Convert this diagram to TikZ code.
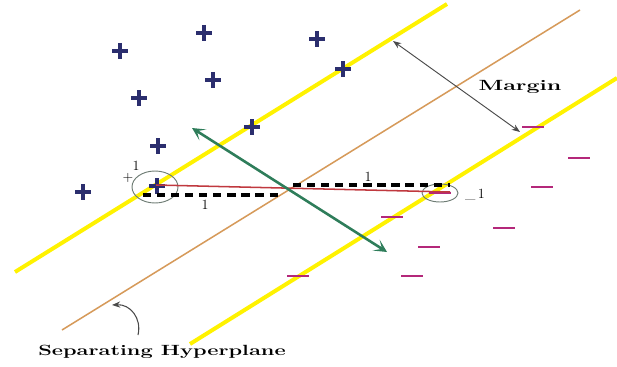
\documentclass[tikz,border=0pt]{standalone}
\usepackage{xcolor}
\usepackage{graphicx}
\usepackage{tikz}
\usetikzlibrary{arrows.meta, positioning, calc}
\definecolor{band}{HTML}{FFF200}
\definecolor{plane}{HTML}{D69A5A}
\definecolor{normal}{HTML}{2E7D5A}
\definecolor{proj}{HTML}{C0393F}
\definecolor{posc}{HTML}{2B2E6E}
\definecolor{negc}{HTML}{B4287A}
\definecolor{ringc}{HTML}{6E7C74}
\definecolor{note}{HTML}{4A4A4A}

\begin{document}
\begin{tikzpicture}[x=0.03cm, y=-0.03cm,
  bandline/.style={draw=band, line width=3.4pt},
  planeline/.style={draw=plane, line width=1.3pt},
  plusmark/.style={draw=posc, line width=2.8pt},
  minusmark/.style={draw=negc, line width=2.4pt},
  ring/.style={draw=ringc, line width=0.8pt},
  gap/.style={draw=black, line width=2.6pt, dash pattern=on 7pt off 5pt},
  lbl/.style={font=\large, inner sep=0pt},
  title/.style={font=\large\bfseries, inner sep=0pt}
]
\useasboundingbox (0,0) rectangle (617,367);
% support lines and hyperplane
\coordinate (u1) at (15,272);
\coordinate (u2) at (447,4);
\coordinate (h1) at (62,330);
\coordinate (h2) at (580,10);
\coordinate (l1) at (190,344);
\coordinate (l2) at (617,78);
\draw[bandline] (u1) -- (u2);
\draw[bandline] (l1) -- (l2);
\draw[planeline] (h1) -- (h2);
% positive samples
\foreach \p in {(120,51),(204,33),(317,39),(343,69),(213,80),(139,98),(252,127),(158,146),(83,192),(157,186)}
  \draw[plusmark] \p ++(-8,0) -- ++(16,0) ++(-8,-8) -- ++(0,16);
% negative samples
\foreach \p in {(533,127),(579,158),(542,187),(392,217),(504,228),(429,247),(298,276),(412,276),(440,193)}
  \draw[minusmark] \p ++(-11,0) -- ++(22,0);
% support vectors
\draw[ring] (155,187) ellipse [x radius=23, y radius=16];
\draw[ring] (440,193) ellipse [x radius=18, y radius=9];
% projections
\coordinate (r1) at (156,185);
\coordinate (r2) at (450,192);
\draw[proj, line width=1.3pt] (r1) -- (r2);
\coordinate (d1) at (143,195);
\coordinate (d2) at (283,195);
\coordinate (d3) at (293,185);
\coordinate (d4) at (450,185);
\draw[gap] (d1) -- (d2);
\draw[gap] (d3) -- (d4);
\node[lbl] (one1) at (205,205) {1};
\node[lbl] (one2) at (368,177) {1};
\node[lbl] (plus1) at (128,178) {+};
\node[lbl] (one3) at (136,166) {1};
\node[lbl] (minus1) at (475,195) {\textunderscore\,1};
% normal vector
\coordinate (n1) at (192,128);
\coordinate (n2) at (387,252);
\draw[draw=normal, line width=2.2pt, {Stealth[length=11pt, width=11pt, inset=6pt]}-{Stealth[length=11pt, width=11pt, inset=6pt]}] (n1) -- (n2);
% margin
\coordinate (m1) at (393,41);
\coordinate (m2) at (520,132);
\draw[draw=note, line width=0.8pt, {Stealth[length=7pt]}-{Stealth[length=7pt]}] (m1) -- (m2);
\node[title] (margin) at (520,87) {\scalebox{1.65}[1.05]{Margin}};
% hyperplane label
\node[title] (hyper) at (162,352) {\scalebox{1.55}[1.05]{Separating Hyperplane}};
\coordinate (c1) at (138,335);
\coordinate (c2) at (112,305);
\draw[draw=note, line width=0.9pt, -{Stealth[length=7pt]}] (c1) .. controls (142,318) and (130,304) .. (c2);
\end{tikzpicture}
\end{document}
